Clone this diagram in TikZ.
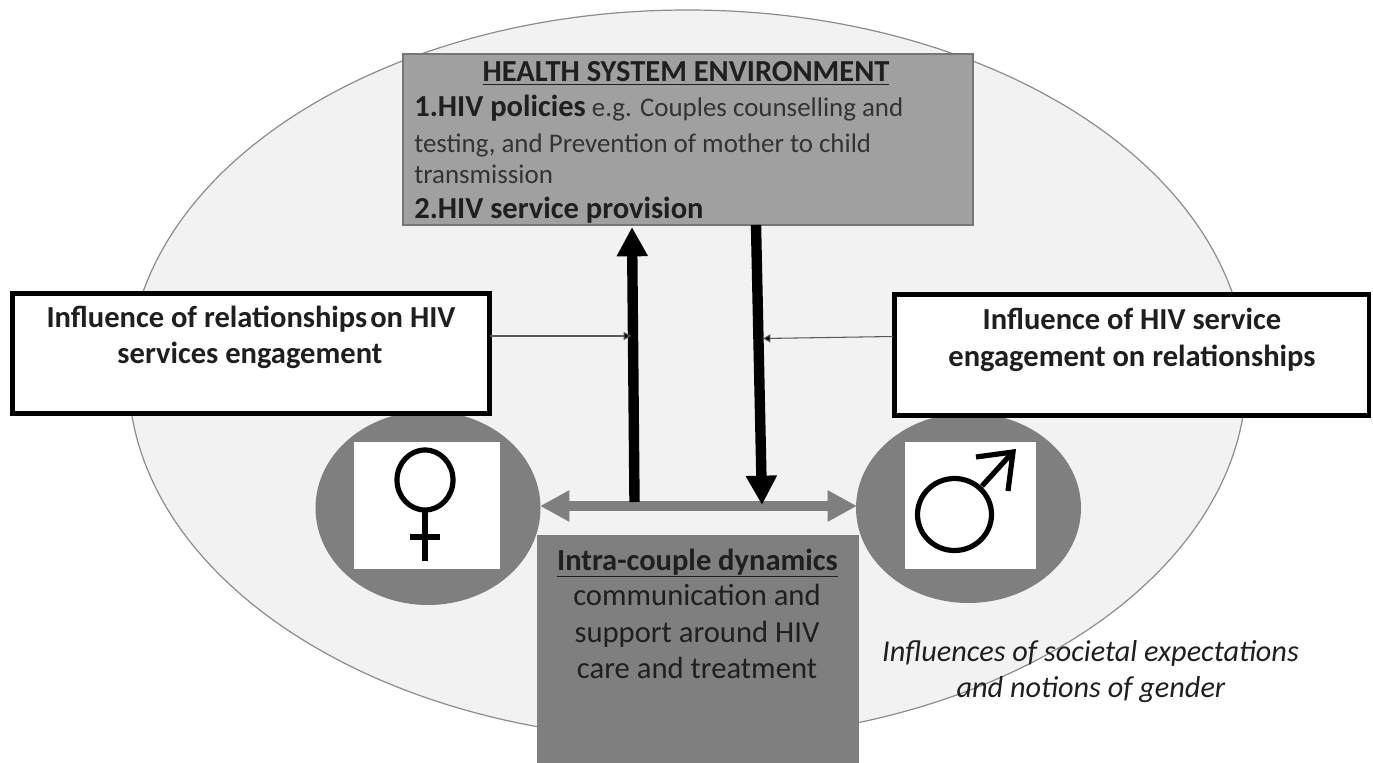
\documentclass[tikz,border=0pt]{standalone}
\usepackage{fontspec}
\setmainfont{Carlito}
\usetikzlibrary{arrows.meta,shapes.geometric}
\definecolor{ellfill}{HTML}{F2F2F2}
\definecolor{ellline}{HTML}{8C8C8C}
\definecolor{topgrey}{HTML}{A0A0A0}
\definecolor{topline}{HTML}{767676}
\definecolor{midgrey}{HTML}{7F7F7F}
\definecolor{softtext}{HTML}{333333}
\definecolor{inktext}{HTML}{1F1F1F}
\newcommand{\fs}[1]{\fontsize{#1}{30pt}\selectfont}
\tikzset{
  x=0.75pt,y=-0.75pt,
  whitebox/.style={draw=black,fill=white,line width=3.6pt,inner sep=0pt,outer sep=0pt},
  topbox/.style={draw=topline,line width=1pt,fill=topgrey,inner sep=0pt,outer sep=0pt},
  midbox/.style={fill=midgrey,inner sep=0pt,outer sep=0pt},
  disc/.style={ellipse,fill=midgrey,inner sep=0pt},
  symbox/.style={fill=white,inner sep=0pt},
  boldline/.style={anchor=base,inner sep=0pt,font=\fs{22.9}\bfseries,text=inktext},
  plainline/.style={anchor=base,inner sep=0pt,font=\fs{23},text=inktext},
  softline/.style={anchor=base west,inner sep=0pt,font=\fs{20.2},text=softtext},
  italline/.style={anchor=base,inner sep=0pt,font=\fs{22.7}\itshape,text=inktext},
  bigarrow/.style={line width=7.8pt,black,-{Triangle[length=22pt,width=22pt]}},
  greyarrow/.style={line width=7.5pt,midgrey,{Triangle[length=22pt,width=22pt]}-{Triangle[length=22pt,width=22pt]}},
  thinarrow/.style={line width=0.8pt,black!65,-{Triangle[length=5.5pt,width=6pt,fill=black]}},
  symline/.style={line width=3.9pt,black},
}
\begin{document}
\begin{tikzpicture}
\useasboundingbox (0,0) rectangle (1373,763);
\node[ellipse,draw=ellline,line width=0.9pt,fill=ellfill,minimum width=1118*0.75pt,minimum height=730*0.75pt,inner sep=0pt,outer sep=0pt] (env) at (687.5,375) {};
% discs
\node[disc,minimum width=225*0.75pt,minimum height=194*0.75pt] (fdisc) at (428,508) {};
\node[disc,minimum width=225*0.75pt,minimum height=190*0.75pt] (mdisc) at (968.5,508) {};
\node[symbox,minimum width=146*0.75pt,minimum height=127*0.75pt] (fbox) at (427,505.5) {};
\node[symbox,minimum width=131*0.75pt,minimum height=127*0.75pt] (mbox) at (970.5,505.5) {};
% female symbol
\draw[symline] (425,480) ellipse [x radius=28,y radius=30];
\draw[symline] (425,510) -- (425,561);
\draw[symline] (410,537) -- (440,537);
% male symbol
\draw[symline] (954.5,514.5) ellipse [x radius=37,y radius=36];
\draw[symline,line join=miter] (976,457) -- (1013,452) -- (1008,491);
\draw[symline] (982,486) -- (1012,453);
% boxes
\node[topbox,minimum width=570*0.75pt,minimum height=171*0.75pt,anchor=north west] (health) at (403,54) {};
\node[boldline] (healthhead) at (686,82) {\underline{HEALTH SYSTEM ENVIRONMENT}};
\node[softline] (hline1) at (414,117) {{\fs{22.9}\bfseries\color{inktext}1.HIV policies} e.g. Couples counselling and};
\node[softline] (hline2) at (414,152) {testing, and Prevention of mother to child};
\node[softline] (hline3) at (414,183) {transmission};
\node[boldline,anchor=base west] (hline4) at (414,218) {2.HIV service provision};
\node[midbox,minimum width=322*0.75pt,minimum height=228*0.75pt,anchor=north west] (couple) at (537,535) {};
\node[boldline] (cline1) at (697.5,570) {\underline{Intra-couple dynamics}};
\node[plainline] (cline2) at (697,605) {communication and};
\node[plainline] (cline3) at (697,642) {support around HIV};
\node[plainline] (cline4) at (697,678) {care and treatment};
\node[whitebox,minimum width=477*0.75pt,minimum height=120*0.75pt,anchor=north west] (leftb) at (12.5,293.5) {};
\node[boldline] (ltxt1) at (251,327) {Influence of relationships\kern-3pt\ on HIV};
\node[boldline] (ltxt2) at (250,363) {services engagement};
\node[whitebox,minimum width=474.5*0.75pt,minimum height=121*0.75pt,anchor=north west] (rightb) at (894.5,294.5) {};
\node[boldline] (rtxt1) at (1132,329) {Influence of HIV service};
\node[boldline] (rtxt2) at (1132,366) {engagement on relationships};
\node[italline] (soc1) at (1090.5,661) {Influences of societal expectations};
\node[italline] (soc2) at (1091,697) {and notions of gender};
% connectors
\coordinate (upstart) at (634.5,502);
\coordinate (upend) at (632,227);
\coordinate (downstart) at (756,225);
\coordinate (downend) at (762,505);
\coordinate (gl) at (540,506);
\coordinate (gr) at (857,506);
\coordinate (tl) at (631,336);
\coordinate (tr) at (763,338.5);
\coordinate (trs) at (893,336.5);
\draw[greyarrow] (gl) -- (gr);
\draw[bigarrow] (upstart) -- (upend);
\draw[bigarrow] (downstart) -- (downend);
\draw[thinarrow] (leftb.east |- tl) -- (tl);
\draw[thinarrow] (trs) -- (tr);
\end{tikzpicture}
\end{document}
